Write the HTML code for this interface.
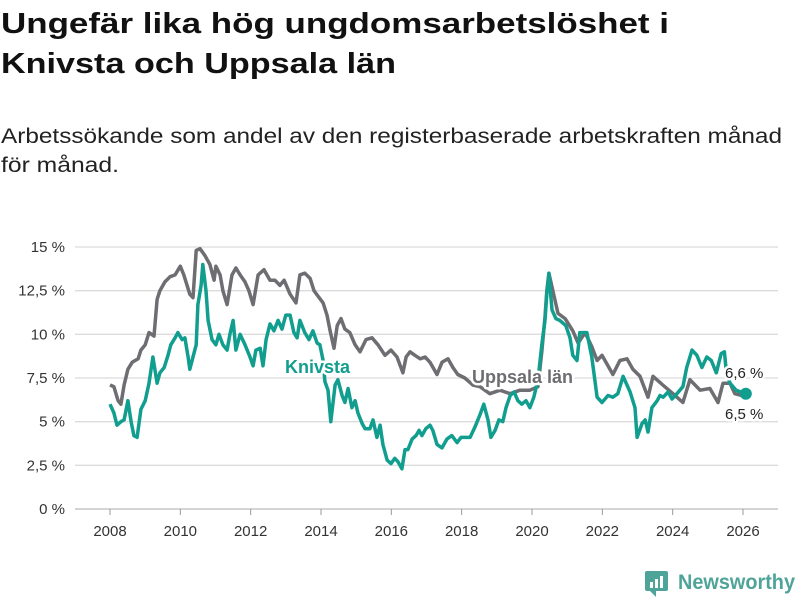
<!DOCTYPE html>
<html><head><meta charset="utf-8">
<style>
html,body{margin:0;padding:0;background:#fff;}
svg{display:block;font-family:"Liberation Sans","DejaVu Sans",sans-serif;}
</style></head>
<body>
<svg id="chart" width="800" height="600" viewBox="0 0 800 600">
  <text x="1" y="33" font-size="29" font-weight="bold" fill="#111" textLength="668" lengthAdjust="spacingAndGlyphs">Ungefär lika hög ungdomsarbetslöshet i</text>
  <text x="1" y="73" font-size="29" font-weight="bold" fill="#111" textLength="395" lengthAdjust="spacingAndGlyphs">Knivsta och Uppsala län</text>
  <text x="1" y="143" font-size="21" fill="#222" textLength="781" lengthAdjust="spacingAndGlyphs">Arbetssökande som andel av den registerbaserade arbetskraften månad</text>
  <text x="1" y="172" font-size="21" fill="#222" textLength="118" lengthAdjust="spacingAndGlyphs">för månad.</text>
  <g id="grid"></g>
  <g id="yaxis"></g>
  <g id="xaxis"></g>
  <g id="series"></g>
  <g id="labels"></g>
  <g>
    <rect x="645" y="571" width="23" height="20" rx="2" fill="#4fa49a"/>
    <path d="M650 591 L656 597 L656 591 Z" fill="#4fa49a"/>
    <rect x="650" y="582" width="3" height="6" fill="#fff"/>
    <rect x="655" y="579" width="3" height="9" fill="#fff"/>
    <rect x="660" y="576" width="3" height="12" fill="#fff"/>
    <text x="678" y="589" font-size="21" font-weight="bold" fill="#4fa49a" textLength="117" lengthAdjust="spacingAndGlyphs">Newsworthy</text>
  </g>
</svg>
<script>
const yTicks = [0, 2.5, 5, 7.5, 10, 12.5, 15];
const yTickLabels = ["0 %", "2,5 %", "5 %", "7,5 %", "10 %", "12,5 %", "15 %"];
const xTicks = [2008, 2010, 2012, 2014, 2016, 2018, 2020, 2022, 2024, 2026];
const knivstaDates = [2008.00,2008.11,2008.20,2008.31,2008.40,2008.51,2008.60,2008.68,2008.77,2008.88,2009.00,2009.11,2009.22,2009.34,2009.42,2009.54,2009.65,2009.73,2009.85,2009.93,2010.05,2010.13,2010.22,2010.27,2010.36,2010.45,2010.50,2010.59,2010.64,2010.73,2010.79,2010.90,2011.01,2011.10,2011.21,2011.33,2011.41,2011.50,2011.58,2011.70,2011.84,2011.98,2012.07,2012.15,2012.27,2012.35,2012.44,2012.55,2012.66,2012.78,2012.89,2013.00,2013.12,2013.23,2013.32,2013.40,2013.54,2013.66,2013.77,2013.89,2013.97,2014.06,2014.11,2014.20,2014.28,2014.40,2014.48,2014.60,2014.68,2014.77,2014.88,2014.97,2015.05,2015.17,2015.25,2015.39,2015.48,2015.59,2015.68,2015.76,2015.88,2015.99,2016.10,2016.19,2016.30,2016.39,2016.47,2016.59,2016.70,2016.79,2016.87,2016.98,2017.10,2017.18,2017.30,2017.44,2017.58,2017.72,2017.87,2017.98,2018.12,2018.24,2018.38,2018.52,2018.63,2018.75,2018.83,2018.95,2019.06,2019.17,2019.26,2019.38,2019.49,2019.60,2019.71,2019.83,2019.94,2020.05,2020.17,2020.28,2020.37,2020.42,2020.48,2020.57,2020.68,2020.79,2020.96,2021.08,2021.16,2021.28,2021.36,2021.56,2021.70,2021.85,2021.99,2022.16,2022.30,2022.44,2022.59,2022.79,2022.93,2022.99,2023.13,2023.22,2023.30,2023.41,2023.56,2023.64,2023.73,2023.87,2023.98,2024.12,2024.29,2024.40,2024.55,2024.69,2024.83,2024.97,2025.10,2025.24,2025.38,2025.47,2025.52,2025.63,2025.80,2025.94,2026.08];
const knivstaValues = [6.0,5.5,4.8,5.0,5.1,6.2,5.0,4.2,4.1,5.7,6.2,7.2,8.7,7.2,7.8,8.1,8.8,9.4,9.8,10.1,9.7,9.8,8.7,8.0,8.7,9.4,11.7,12.8,14.0,12.5,10.8,9.7,9.4,10.0,9.4,9.1,10.0,10.8,9.1,10.0,9.4,8.7,8.2,9.1,9.2,8.2,9.7,10.6,10.2,10.8,10.3,11.1,11.1,10.1,9.8,10.8,10.1,9.7,10.2,9.5,9.4,8.5,7.3,6.8,5.0,7.1,7.4,6.5,6.1,6.9,5.8,6.2,5.5,4.9,4.6,4.6,5.1,4.1,4.8,3.7,2.8,2.6,2.9,2.7,2.3,3.4,3.4,4.0,4.2,4.5,4.2,4.6,4.8,4.5,3.7,3.5,4.0,4.2,3.8,4.1,4.1,4.1,4.7,5.4,6.0,5.1,4.1,4.5,5.1,5.0,5.8,6.5,6.7,6.2,6.0,6.2,5.8,6.4,7.4,9.4,10.8,12.3,13.5,11.4,10.9,10.8,10.5,9.8,8.8,8.5,10.1,10.1,8.7,6.4,6.1,6.5,6.4,6.6,7.6,6.7,5.8,4.1,4.9,5.1,4.4,5.8,6.2,6.5,6.4,6.7,6.3,6.6,7.0,8.1,9.1,8.8,8.1,8.7,8.5,7.8,8.9,9.0,8.0,7.2,6.8,6.7,6.6];
const uppsalaDates = [2008.00,2008.11,2008.23,2008.31,2008.40,2008.51,2008.63,2008.80,2008.88,2009.00,2009.11,2009.25,2009.34,2009.42,2009.56,2009.71,2009.85,2010.00,2010.10,2010.27,2010.36,2010.45,2010.56,2010.70,2010.84,2010.96,2011.01,2011.13,2011.21,2011.33,2011.47,2011.58,2011.70,2011.84,2011.95,2012.07,2012.21,2012.38,2012.55,2012.69,2012.83,2012.95,2013.12,2013.29,2013.40,2013.54,2013.69,2013.80,2013.91,2014.06,2014.17,2014.26,2014.37,2014.46,2014.57,2014.68,2014.82,2014.97,2015.11,2015.28,2015.45,2015.62,2015.82,2015.99,2016.16,2016.33,2016.42,2016.53,2016.67,2016.82,2016.96,2017.10,2017.30,2017.44,2017.61,2017.75,2017.89,2018.09,2018.32,2018.52,2018.80,2019.09,2019.38,2019.66,2019.94,2020.17,2020.28,2020.37,2020.42,2020.48,2020.74,2020.94,2021.16,2021.31,2021.51,2021.70,2021.85,2021.99,2022.30,2022.50,2022.70,2022.87,2023.07,2023.30,2023.44,2023.72,2024.01,2024.29,2024.49,2024.78,2025.06,2025.29,2025.43,2025.63,2025.77,2025.97,2026.08];
const uppsalaValues = [7.1,7.0,6.2,6.0,7.1,8.0,8.4,8.6,9.1,9.4,10.1,9.9,12.0,12.5,13.0,13.3,13.4,13.9,13.4,12.3,12.1,14.8,14.9,14.5,14.0,13.1,13.9,13.4,12.5,11.7,13.4,13.8,13.4,13.0,12.5,11.7,13.4,13.7,13.1,13.1,12.8,13.1,12.3,11.8,13.4,13.5,13.2,12.5,12.2,11.8,11.1,10.2,9.2,10.5,10.9,10.3,10.1,9.4,9.0,9.7,9.8,9.4,8.8,9.1,8.7,7.8,8.7,9.0,8.8,8.6,8.7,8.4,7.7,8.4,8.6,8.1,7.7,7.5,7.1,7.0,6.6,6.8,6.6,6.8,6.8,7.0,9.0,11.0,12.5,13.5,11.2,10.9,10.2,9.5,10.1,9.3,8.5,8.8,7.7,8.5,8.6,8.0,7.6,6.4,7.6,7.1,6.6,6.1,7.4,6.8,6.9,6.1,7.2,7.2,6.6,6.5,6.5];

const NS = "http://www.w3.org/2000/svg";
const X0 = 110, X1 = 743, Y0 = 509, Y1 = 247;
function xs(v){ return X0 + (v - 2008) / 18 * (X1 - X0); }
function ys(v){ return Y0 - v / 15 * (Y0 - Y1); }
function mk(tag, attrs, parent){ const e = document.createElementNS(NS, tag); for (const k in attrs) e.setAttribute(k, attrs[k]); parent.appendChild(e); return e; }

const grid = document.getElementById('grid'), yaxis = document.getElementById('yaxis'), xaxis = document.getElementById('xaxis');
yTicks.forEach((t, i) => {
  const l = mk('line', {x1: 75, x2: 778, y1: ys(t), y2: ys(t), stroke: t === 0 ? '#bbb' : '#dcdcdc', 'stroke-width': 1.3}, grid);
  
  
  const tx = mk('text', {x: 65, y: ys(t) + 5, 'text-anchor': 'end', 'font-size': 15, fill: '#333'}, yaxis);
  tx.textContent = yTickLabels[i];
  
  
});
xTicks.forEach(t => {
  const l = mk('line', {x1: xs(t), x2: xs(t), y1: 509, y2: 515, stroke: '#999', 'stroke-width': 1}, xaxis);
  
  
  const tx = mk('text', {x: xs(t), y: 536, 'text-anchor': 'middle', 'font-size': 15, fill: '#333'}, xaxis);
  tx.textContent = String(t);
  
  
});

const series = document.getElementById('series');
function pathOf(d, v){
  const m = Math.min(d.length, v.length);
  let s = '';
  for (let i = 0; i < m; i++) s += (i ? 'L' : 'M') + xs(d[i]).toFixed(1) + ' ' + ys(v[i]).toFixed(1) + ' ';
  return s;
}
const pu = mk('path', {d: pathOf(uppsalaDates, uppsalaValues), fill: 'none', stroke: '#6d6d72', 'stroke-width': 3.5, 'stroke-linejoin': 'round'}, series);


const pk = mk('path', {d: pathOf(knivstaDates, knivstaValues), fill: 'none', stroke: '#119e8f', 'stroke-width': 3.5, 'stroke-linejoin': 'round'}, series);


const n = Math.min(knivstaDates.length, knivstaValues.length) - 1;
const dot = mk('circle', {cx: xs(knivstaDates[n]), cy: ys(knivstaValues[n]), r: 6, fill: '#119e8f'}, series);



const labels = document.getElementById('labels');
function lab(x, y, txt, size, weight, color, name){
  const h = mk('text', {x: x, y: y, 'font-size': size, 'font-weight': weight, fill: 'none', stroke: '#fff', 'stroke-width': 5, 'stroke-linejoin': 'round'}, labels);
  h.textContent = txt;
  
  
  const t = mk('text', {x: x, y: y, 'font-size': size, 'font-weight': weight, fill: color}, labels);
  t.textContent = txt;
  
  
}
lab(285, 373, 'Knivsta', 18, 'bold', '#119e8f', 'knivsta-label');
lab(472, 383, 'Uppsala län', 18, 'bold', '#6d6d72', 'uppsala-label');
lab(725, 378, '6,6 %', 15, 'normal', '#222', 'knivsta-end-value');
lab(725, 419, '6,5 %', 15, 'normal', '#222', 'uppsala-end-value');
</script>
</body></html>
